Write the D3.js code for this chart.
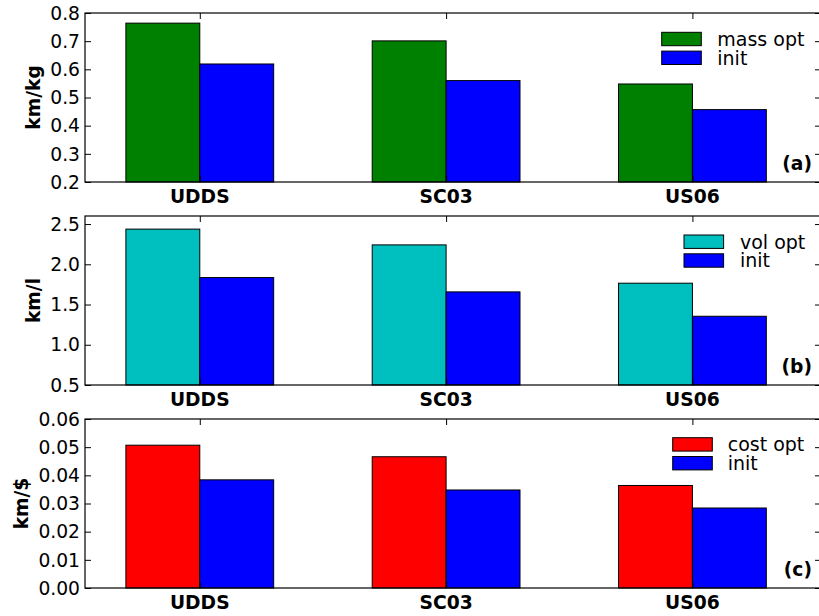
<!DOCTYPE html>
<html>
<head>
<meta charset="utf-8">
<script src="https://cdn.jsdelivr.net/npm/d3@7"></script>
<style>
  html, body { margin: 0; padding: 0; background: #fff; }
  svg { display: block; }
  text { font-family: "DejaVu Sans", sans-serif; fill: #000; }
</style>
</head>
<body>
<script>
// Drive cycles and range per unit of mass, volume and cost
const cycles = ["UDDS", "SC03", "US06"];

const massOpt  = [0.764, 0.701, 0.548];
const massInit = [0.619, 0.560, 0.457];
const volOpt   = [2.437, 2.241, 1.765];
const volInit  = [1.835, 1.657, 1.354];
const costOpt  = [0.0507, 0.0466, 0.0364];
const costInit = [0.0384, 0.0348, 0.0284];

const massTicks = [0.2, 0.3, 0.4, 0.5, 0.6, 0.7, 0.8];
const volTicks  = [0.5, 1.0, 1.5, 2.0, 2.5];
const costTicks = [0.00, 0.01, 0.02, 0.03, 0.04, 0.05, 0.06];

const W = 819, H = 616;
const FS = 18.7;
const barW = 0.3;

const svg = d3.select("body").append("svg")
  .attr("width", W).attr("height", H);

const x = d3.scaleLinear().domain([-0.466, 2.522]).range([85, 821]);

const panels = [
  { top: 13, bottom: 182, domain: [0.2, 0.8], ticks: massTicks, fmt: d3.format(".1f"),
    opt: massOpt, init: massInit, optColor: "#008000", optName: "mass opt",
    ylabel: "km/kg", ylabelX: 40, tag: "(a)",
    legX: 661.7, legY: 32.3, legTextX: 717.3 },
  { top: 216, bottom: 385, domain: [0.5, 2.6], ticks: volTicks, fmt: d3.format(".1f"),
    opt: volOpt, init: volInit, optColor: "#00bfbf", optName: "vol opt",
    ylabel: "km/l", ylabelX: 40, tag: "(b)",
    legX: 684, legY: 235, legTextX: 740 },
  { top: 419, bottom: 588, domain: [0, 0.06], ticks: costTicks, fmt: d3.format(".2f"),
    opt: costOpt, init: costInit, optColor: "#ff0000", optName: "cost opt",
    ylabel: "km/$", ylabelX: 28, tag: "(c)",
    legX: 672.7, legY: 437.7, legTextX: 727.7 }
];

panels.forEach(p => {
  const y = d3.scaleLinear().domain(p.domain).range([p.bottom, p.top]);
  const g = svg.append("g");
  const idx = d3.range(cycles.length);

  // optimised design bars, left of each cycle tick
  g.selectAll("rect.opt").data(idx).join("rect")
    .attr("class", "opt")
    .attr("x", i => x(i - barW))
    .attr("y", i => y(p.opt[i]))
    .attr("width", i => x(i) - x(i - barW))
    .attr("height", i => y(p.domain[0]) - y(p.opt[i]))
    .attr("fill", p.optColor).attr("stroke", "#000").attr("stroke-width", 1);

  // initial design bars, right of each cycle tick
  g.selectAll("rect.init").data(idx).join("rect")
    .attr("class", "init")
    .attr("x", i => x(i))
    .attr("y", i => y(p.init[i]))
    .attr("width", i => x(i + barW) - x(i))
    .attr("height", i => y(p.domain[0]) - y(p.init[i]))
    .attr("fill", "#0000ff").attr("stroke", "#000").attr("stroke-width", 1);

  // axes: left with labels, right with inward ticks only
  const left = d3.axisRight(y).tickValues(p.ticks).tickSize(6).tickFormat("");
  g.append("g").attr("transform", `translate(${x.range()[0]},0)`).call(left)
    .call(s => s.select(".domain").remove());
  const right = d3.axisLeft(y).tickValues(p.ticks).tickSize(6).tickFormat("");
  g.append("g").attr("transform", `translate(${x.range()[1]},0)`).call(right)
    .call(s => s.select(".domain").remove());

  g.selectAll("text.ytick").data(p.ticks).join("text")
    .attr("class", "ytick")
    .attr("x", x.range()[0] - 5)
    .attr("y", d => y(d))
    .attr("dy", "0.36em")
    .attr("text-anchor", "end")
    .style("font-size", FS + "px")
    .text(p.fmt);

  // x ticks top (inward) and bottom (inward)
  const top = d3.axisBottom(x).tickValues(idx).tickSize(6).tickFormat("");
  g.append("g").attr("transform", `translate(0,${p.top})`).call(top)
    .call(s => s.select(".domain").remove());
  const bot = d3.axisTop(x).tickValues(idx).tickSize(6).tickFormat("");
  g.append("g").attr("transform", `translate(0,${p.bottom})`).call(bot)
    .call(s => s.select(".domain").remove());

  g.selectAll(".tick line").attr("stroke", "#000").attr("stroke-width", 1);

  g.selectAll("text.xtick").data(idx).join("text")
    .attr("class", "xtick")
    .attr("x", i => x(i))
    .attr("y", p.bottom + 20.5)
    .attr("text-anchor", "middle")
    .style("font-size", FS + "px").style("font-weight", "bold")
    .text(i => cycles[i]);

  // frame
  g.append("rect")
    .attr("x", x.range()[0]).attr("y", p.top)
    .attr("width", x.range()[1] - x.range()[0]).attr("height", p.bottom - p.top)
    .attr("fill", "none").attr("stroke", "#000").attr("stroke-width", 1.2);

  // y label
  g.append("text")
    .attr("transform", `translate(${p.ylabelX},${(p.top + p.bottom) / 2}) rotate(-90)`)
    .attr("text-anchor", "middle")
    .style("font-size", FS + "px").style("font-weight", "bold")
    .text(p.ylabel);

  // panel tag
  g.append("text")
    .attr("x", 812).attr("y", p.bottom - 12)
    .attr("text-anchor", "end")
    .style("font-size", FS + "px").style("font-weight", "bold")
    .text(p.tag);

  // legend
  const entries = [[p.optName, p.optColor], ["init", "#0000ff"]];
  entries.forEach(([name, col], k) => {
    const yy = p.legY + k * 18.8;
    g.append("rect")
      .attr("x", p.legX).attr("y", yy)
      .attr("width", 39.6).attr("height", 13.4)
      .attr("fill", col).attr("stroke", "#000").attr("stroke-width", 1);
    g.append("text")
      .attr("x", p.legTextX).attr("y", yy + 6.7)
      .attr("dy", "0.36em")
      .style("font-size", "19px")
      .text(name);
  });
});
</script>
</body>
</html>
